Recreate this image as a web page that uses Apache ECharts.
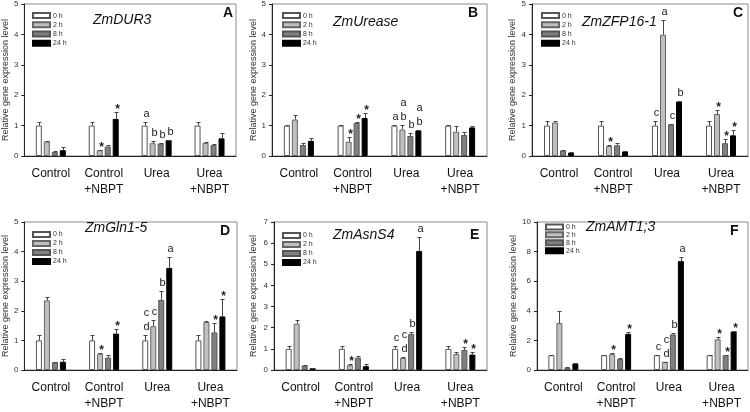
<!DOCTYPE html>
<html><head><meta charset="utf-8">
<script src="https://cdn.jsdelivr.net/npm/echarts@6/dist/echarts.min.js"></script>
<style>html,body{margin:0;padding:0;background:#fff}#c{width:750px;height:412px}</style>
</head><body><div id="c"></div>
<script>
const categories = ['Control', 'Control\n+NBPT', 'Urea', 'Urea\n+NBPT'];
const timePoints = ['0 h', '2 h', '8 h', '24 h'];
const geneNames = ['ZmDUR3', 'ZmUrease', 'ZmZFP16-1', 'ZmGln1-5', 'ZmAsnS4', 'ZmAMT1;3'];
const panelLetters = ['A', 'B', 'C', 'D', 'E', 'F'];
const yAxisMax = [5, 5, 5, 5, 7, 10];
const yAxisStep = [1, 1, 1, 1, 1, 2];
const yAxisTitle = 'Relative gene expression level';

// values: [category][time point]
const dur3Mean = [[1.0,0.48,0.13,0.19],[1.0,0.19,0.31,1.22],[1.0,0.42,0.41,0.52],[1.0,0.43,0.36,0.58]];
const dur3Err  = [[0.13,0.02,0.02,0.11],[0.13,0.02,0.06,0.22],[0.13,0.08,0.02,0.02],[0.13,0.02,0.04,0.17]];
const dur3Sig  = [['','','',''],['','*','','*'],['a','b','b','b'],['','','','']];

const ureaseMean = [[1.0,1.2,0.36,0.5],[1.0,0.47,1.09,1.25],[1.0,0.87,0.66,0.84],[1.0,0.8,0.69,0.94]];
const ureaseErr  = [[0.03,0.14,0.08,0.1],[0.02,0.17,0.03,0.18],[0.02,0.15,0.11,0.02],[0.02,0.2,0.09,0.05]];
const ureaseSig  = [['','','',''],['','*','*','*'],['a','a\nb','b','a\nb'],['','','','']];

const zfpMean = [[1.0,1.1,0.18,0.11],[1.0,0.33,0.35,0.15],[1.0,3.99,1.04,1.79],[1.0,1.38,0.42,0.68]];
const zfpErr  = [[0.14,0.06,0.01,0.03],[0.14,0.03,0.07,0.03],[0.14,0.48,0.02,0.01],[0.14,0.13,0.15,0.19]];
const zfpSig  = [['','','',''],['','*','',''],['c','a','c','b'],['','*','*','*']];

const glnMean = [[1.0,2.35,0.26,0.28],[1.0,0.55,0.42,1.23],[1.0,1.48,2.37,3.45],[1.0,1.62,1.27,1.81]];
const glnErr  = [[0.17,0.11,0.02,0.08],[0.17,0.03,0.07,0.16],[0.17,0.22,0.31,0.36],[0.17,0.05,0.31,0.6]];
const glnSig  = [['','','',''],['','*','','*'],['c\nd','c','b','a'],['','','*','*']];

const asnMean = [[1.0,2.19,0.21,0.08],[1.0,0.23,0.58,0.18],[1.0,0.57,1.7,5.63],[1.0,0.76,0.95,0.73]];
const asnErr  = [[0.15,0.18,0.01,0.01],[0.15,0.06,0.06,0.1],[0.15,0.06,0.1,0.64],[0.15,0.07,0.12,0.13]];
const asnSig  = [['','','',''],['','*','',''],['c','c\nd','b','a'],['','','*','*']];

const amtMean = [[1.0,3.17,0.15,0.44],[1.0,1.07,0.74,2.44],[1.0,0.55,2.4,7.36],[1.0,2.07,1.0,2.6]];
const amtErr  = [[0.03,0.8,0.03,0.06],[0.03,0.05,0.04,0.16],[0.03,0.02,0.1,0.26],[0.03,0.16,0.03,0.02]];
const amtSig  = [['','','',''],['','*','','*'],['c','c\nd','b','a'],['','*','*','*']];

const panelMeans = [dur3Mean, ureaseMean, zfpMean, glnMean, asnMean, amtMean];
const panelErrs = [dur3Err, ureaseErr, zfpErr, glnErr, asnErr, amtErr];
const panelSigs = [dur3Sig, ureaseSig, zfpSig, glnSig, asnSig, amtSig];

// ---- layout / style ----
const FONT = '"Liberation Sans", Arial, sans-serif';
const barColors = ['#ffffff', '#c0c0c0', '#808080', '#000000'];
const barBorders = ['#555555', '#666666', '#555555', '#000000'];
const gridBoxes = [
  {left: 23, top: 4, width: 213, height: 152},
  {left: 272, top: 4, width: 215, height: 152},
  {left: 532, top: 4, width: 216, height: 152},
  {left: 23, top: 222, width: 214, height: 152},
  {left: 274, top: 222, width: 213, height: 152},
  {left: 537, top: 222, width: 211, height: 152}
];
const nameGaps = [13, 13, 15, 14, 16, 18];
const titlePos = [[93, 13], [333, 15], [582, 15], [85, 221], [333, 228], [586, 220]];
const letterPos = [[223, 6], [468, 6], [733, 6], [220, 224], [470, 228], [730, 224]];
const legendPos = [[32, 11, 9.2], [282, 11, 9.2], [541, 11, 9.2], [32, 230, 9], [282, 231, 9], [545, 223, 7.9]];
const BAR_W = 6, BAR_GAP = 2;

const grid = [], xAxis = [], yAxis = [], series = [], title = [], legend = [];

panelMeans.forEach(function (means, p) {
  const g = gridBoxes[p];
  grid.push(Object.assign({show: true, borderColor: '#8a8a8a', borderWidth: 1, containLabel: false}, g));
  xAxis.push({
    type: 'category', gridIndex: p, data: categories,
    axisLine: {lineStyle: {color: '#222', width: 1}},
    axisTick: {alignWithLabel: true, length: 3, lineStyle: {color: '#222'}},
    axisLabel: {fontFamily: FONT, fontSize: 12, lineHeight: 16, color: '#111', margin: 10, interval: 0},
    splitLine: {show: false}
  });
  yAxis.push({
    type: 'value', gridIndex: p, min: 0, max: yAxisMax[p], interval: yAxisStep[p],
    name: yAxisTitle, nameLocation: 'middle', nameGap: nameGaps[p],
    nameTextStyle: {fontFamily: FONT, fontSize: 9, color: '#333'},
    axisLine: {show: true, lineStyle: {color: '#222', width: 1}},
    axisTick: {show: true, length: 3, lineStyle: {color: '#222'}},
    axisLabel: {fontFamily: FONT, fontSize: 8, color: '#333', margin: 6},
    splitLine: {show: false}
  });
  timePoints.forEach(function (tp, t) {
    series.push({
      type: 'bar', name: tp, xAxisIndex: p, yAxisIndex: p,
      barWidth: BAR_W, barGap: (BAR_GAP / BAR_W * 100) + '%',
      itemStyle: {color: barColors[t], borderColor: barBorders[t], borderWidth: 1},
      emphasis: {disabled: true}, animation: false,
      data: means.map(function (row) { return row[t]; })
    });
  });
  const errs = panelErrs[p], sigs = panelSigs[p];
  const items = [];
  const labels = [];
  means.forEach(function (row, c) {
    row.forEach(function (v, t) {
      items.push([c, v, errs[c][t], t]);
      labels.push(sigs[c][t]);
    });
  });
  series.push({
    type: 'custom', xAxisIndex: p, yAxisIndex: p, animation: false, silent: true,
    data: items, z: 5,
    renderItem: function (params, api) {
      const cat = api.value(0), v = api.value(1), e = api.value(2), t = api.value(3);
      const base = api.coord([cat, v]);
      const topPt = api.coord([cat, v + e]);
      const x = Math.round(base[0] + (t - 1.5) * (BAR_W + BAR_GAP)) + 0.5;
      const y0 = base[1], y1 = Math.round(topPt[1]) + 0.5;
      const children = [
        {type: 'line', shape: {x1: x, y1: y0, x2: x, y2: y1}, style: {stroke: '#444', lineWidth: 1}},
        {type: 'line', shape: {x1: x - 2, y1: y1, x2: x + 2, y2: y1}, style: {stroke: '#444', lineWidth: 1}}
      ];
      const lab = labels[params.dataIndex];
      if (lab) {
        const isStar = lab === '*';
        children.push({
          type: 'text',
          style: {
            text: lab, x: x + 1, y: isStar ? y1 + 4 : y1 - 2,
            align: 'center', verticalAlign: 'bottom',
            font: (isStar ? 'bold 12px ' : '11px ') + FONT,
            lineHeight: 14, fill: '#222'
          }
        });
      }
      return {type: 'group', children: children};
    }
  });
  title.push({
    text: geneNames[p], left: titlePos[p][0], top: titlePos[p][1], padding: 0,
    textStyle: {fontFamily: FONT, fontSize: 14, fontStyle: 'italic', fontWeight: 'normal', color: '#111'}
  });
  title.push({
    text: panelLetters[p], left: letterPos[p][0], top: letterPos[p][1], padding: 0,
    textStyle: {fontFamily: FONT, fontSize: 14, fontWeight: 'bold', color: '#111'}
  });
  const lp = legendPos[p];
  legend.push({
    data: timePoints, orient: 'vertical', left: lp[0], top: lp[1], padding: 0,
    itemWidth: 17, itemHeight: 5, itemGap: 0, icon: 'rect', selectedMode: false,
    textStyle: {fontFamily: FONT, fontSize: 7, color: '#333', lineHeight: lp[2], padding: [0, 0, 0, -2]}
  });
});

const chart = echarts.init(document.getElementById('c'), null, {renderer: 'canvas'});
chart.setOption({animation: false, backgroundColor: '#fff', grid: grid, xAxis: xAxis, yAxis: yAxis, series: series, title: title, legend: legend});
</script></body></html>
